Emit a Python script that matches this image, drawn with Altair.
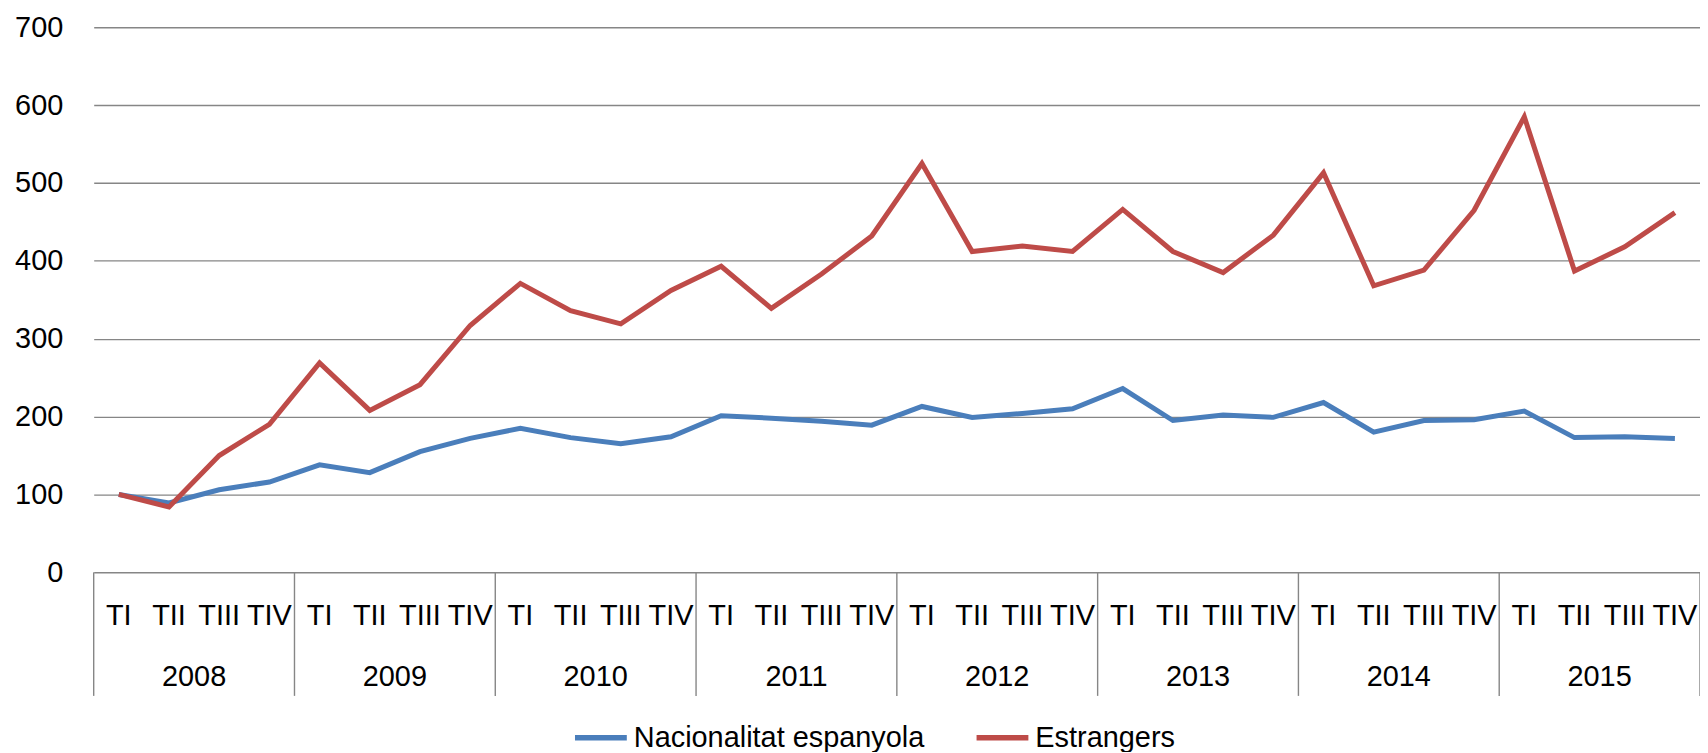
import altair as alt
import pandas as pd

# ---- data ----
years = ["2008", "2009", "2010", "2011", "2012", "2013", "2014", "2015"]
quarters = ["TI", "TII", "TIII", "TIV"]
series = ["Nacionalitat espanyola", "Estrangers"]
colors = ["#4A7EBB", "#BE4B48"]

espanyola = [100, 89, 106, 116, 138, 128, 155, 172,
             185, 173, 165, 174, 201, 198, 194, 189,
             213, 199, 204, 210, 236, 195, 202, 199,
             218, 180, 195, 196, 207, 173, 174, 172]
estrangers = [100, 84, 150, 190, 269, 208, 241, 317,
              371, 336, 319, 362, 393, 339, 383, 432,
              525, 412, 419, 412, 466, 412, 385, 433,
              513, 368, 388, 465, 585, 387, 418, 462]
y_ticks = [0, 100, 200, 300, 400, 500, 600, 700]

# ---- layout ----
W, H = 1612, 547
FONT = "Liberation Sans"
FS = 29
GRID = "#868686"

n = len(years) * len(quarters)
rows = []
for s, vals in zip(series, [espanyola, estrangers]):
    for i, v in enumerate(vals):
        rows.append({"serie": s, "pos": i + 0.5, "valor": v, "ord": i})
df = pd.DataFrame(rows)

qdf = pd.DataFrame({"pos": [i + 0.5 for i in range(n)],
                    "label": [quarters[i % 4] for i in range(n)]})
ydf = pd.DataFrame({"pos": [i * 4 + 2 for i in range(len(years))], "label": years})
sdf = pd.DataFrame({"pos": [i * 4 for i in range(len(years) + 1)]})

xscale = alt.Scale(domain=[0, n], nice=False, zero=False)

lines = alt.Chart(df).mark_line(strokeWidth=5).encode(
    x=alt.X("pos:Q", scale=xscale, axis=None),
    y=alt.Y("valor:Q", scale=alt.Scale(domain=[0, 700], nice=False),
            axis=alt.Axis(values=y_ticks, title=None, domain=False, ticks=False,
                          grid=True, gridColor=GRID, gridWidth=1.4,
                          labelFont=FONT, labelFontSize=FS, labelColor="black",
                          labelPadding=31)),
    color=alt.Color("serie:N", scale=alt.Scale(domain=series, range=colors),
                    legend=alt.Legend(orient="none", legendX=480, legendY=684,
                                      direction="horizontal", title=None,
                                      symbolType="stroke", symbolSize=2704,
                                      symbolStrokeWidth=5.5, labelFont=FONT,
                                      labelFontSize=FS, labelColor="black",
                                      columnPadding=41, labelOffset=4, padding=0,
                                      labelLimit=500)),
    order="ord:Q",
)

qtext = alt.Chart(qdf).mark_text(font=FONT, fontSize=FS, color="black", baseline="middle").encode(
    x=alt.X("pos:Q", scale=xscale, axis=None),
    y=alt.value(H + 44),
    text="label:N",
)

ytext = alt.Chart(ydf).mark_text(font=FONT, fontSize=FS, color="black", baseline="middle").encode(
    x=alt.X("pos:Q", scale=xscale, axis=None),
    y=alt.value(H + 105),
    text="label:N",
)

seps = alt.Chart(sdf).mark_rule(color=GRID, strokeWidth=1.4).encode(
    x=alt.X("pos:Q", scale=xscale, axis=None),
    y=alt.value(H),
    y2=alt.value(H + 124),
)

chart = alt.layer(seps, lines, qtext, ytext).properties(
    width=W, height=H,
    autosize=alt.AutoSizeParams(type="none"),
    padding={"left": 86, "top": 18, "right": 0, "bottom": 179},
).configure_view(stroke=None)

chart.save("out.html", embed_options={"renderer": "svg", "actions": False})
